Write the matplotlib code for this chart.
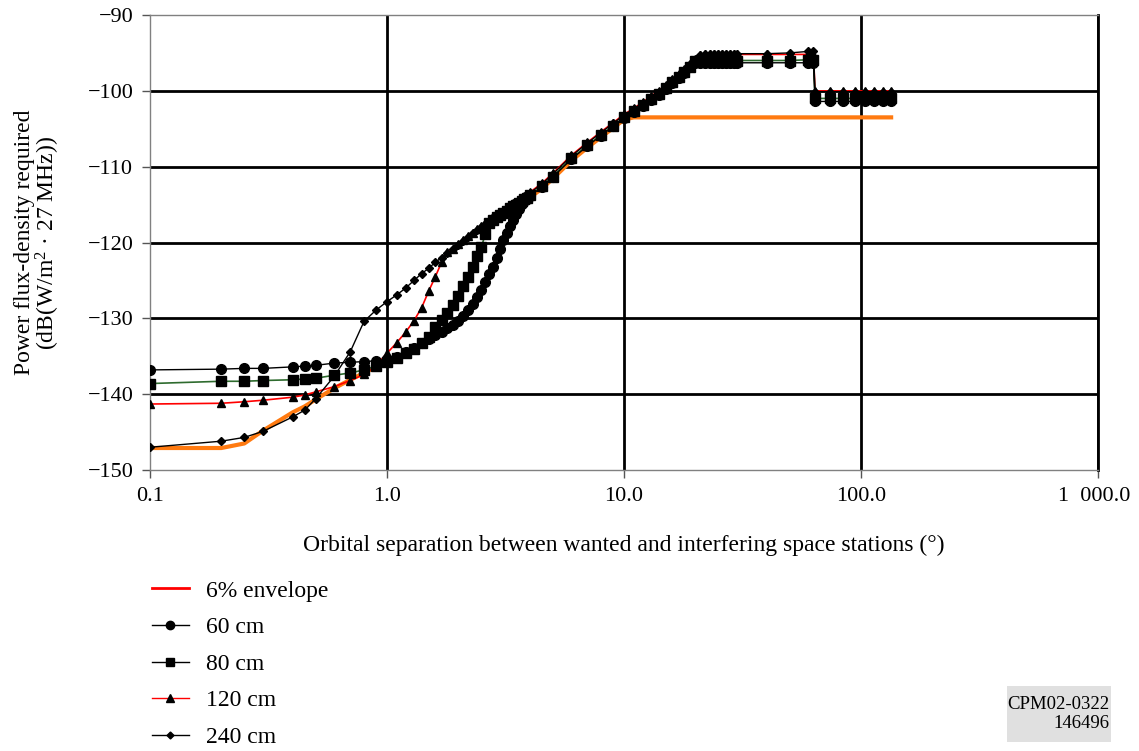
import matplotlib
matplotlib.use('Agg')
import matplotlib.pyplot as plt
from matplotlib.lines import Line2D
from matplotlib.patches import Rectangle
from matplotlib.ticker import FixedLocator, FixedFormatter, NullLocator
from matplotlib.transforms import ScaledTranslation

# orbital separation (degrees), shared by all curves
x_deg = [0.1, 0.2, 0.25, 0.3, 0.4, 0.45, 0.5, 0.6, 0.7, 0.8, 0.9,
         1.0, 1.1, 1.2, 1.3, 1.4, 1.5, 1.6, 1.7, 1.8, 1.9,
         2.0, 2.1, 2.2, 2.3, 2.4, 2.5, 2.6, 2.7, 2.8, 2.9,
         3.0, 3.1, 3.2, 3.3, 3.4, 3.5, 3.6, 3.7, 3.8, 3.9,
         4.0, 4.5, 5.0,
         6, 7, 8, 9, 10, 11, 12, 13, 14, 15, 16, 17, 18, 19,
         20, 21, 22, 23, 24, 25, 26, 27, 28, 29, 30,
         40, 50, 60, 63,
         64, 74, 84, 94, 104, 114, 124, 134]

pfd_240 = [-147.0, -146.2, -145.7, -144.9, -143.0, -142.1, -140.6, -137.6, -134.4, -130.4, -128.9,
           -127.8, -126.9, -126.0, -125.0, -124.1, -123.4, -122.6, -122.0, -121.4, -120.9,
           -120.3, -119.8, -119.3, -118.8, -118.3, -117.9, -117.5, -117.1, -116.7, -116.4,
           -116.1, -115.8, -115.5, -115.2, -114.9, -114.7, -114.5, -114.2, -114.0, -113.8,
           -113.5, -112.3, -111.0,
           -108.6, -106.9, -105.5, -104.3, -103.2, -102.4, -101.6, -100.8, -100.1, -99.3, -98.6, -97.9, -97.2, -96.5,
           -95.9, -95.3, -95.1, -95.1, -95.1, -95.1, -95.1, -95.1, -95.1, -95.1, -95.1,
           -95.1, -95.0, -94.8, -94.8,
           -100.1, -100.1, -100.1, -100.1, -100.1, -100.1, -100.1, -100.1]

pfd_120 = [-141.3, -141.2, -141.0, -140.8, -140.4, -140.1, -139.7, -139.0, -138.2, -137.4, -136.2,
           -134.6, -133.2, -131.8, -130.3, -128.6, -126.4, -124.5, -122.6, -121.3, -120.8,
           -120.2, -119.7, -119.2, -118.7, -118.2, -117.8, -117.4, -117.0, -116.6, -116.3,
           -116.0, -115.7, -115.4, -115.1, -114.8, -114.6, -114.4, -114.1, -113.9, -113.7,
           -113.4, -112.2, -110.9,
           -108.5, -106.8, -105.4, -104.2, -103.1, -102.3, -101.5, -100.7, -100.0, -99.2, -98.5, -97.8, -97.1, -96.4,
           -95.8, -95.3, -95.2, -95.2, -95.2, -95.2, -95.2, -95.2, -95.2, -95.2, -95.2,
           -95.2, -95.2, -95.2, -95.2,
           -100.0, -100.0, -100.0, -100.0, -100.0, -100.0, -100.0, -100.0]

pfd_80 = [-138.6, -138.3, -138.3, -138.2, -138.1, -138.0, -137.9, -137.5, -137.2, -136.8, -136.3,
          -135.8, -135.2, -134.6, -134.0, -133.3, -132.4, -131.1, -130.2, -129.3, -128.2,
          -127.0, -125.8, -124.6, -123.2, -121.8, -120.6, -118.9, -117.4, -117.0, -116.7,
          -116.4, -116.1, -115.8, -115.5, -115.2, -115.0, -114.8, -114.5, -114.3, -114.1,
          -113.8, -112.6, -111.3,
          -108.9, -107.2, -105.8, -104.6, -103.5, -102.7, -101.9, -101.1, -100.4, -99.6, -98.9, -98.2, -97.5, -96.8,
          -96.1, -96.0, -96.0, -96.0, -96.0, -96.0, -96.0, -96.0, -96.0, -96.0, -96.0,
          -96.0, -96.0, -95.9, -95.9,
          -101.0, -101.0, -101.0, -101.0, -101.0, -101.0, -101.0, -101.0]

pfd_60 = [-136.8, -136.7, -136.6, -136.6, -136.4, -136.3, -136.2, -135.9, -135.8, -135.7, -135.6,
          -135.4, -135.1, -134.5, -133.9, -133.3, -132.7, -132.2, -131.8, -131.3, -130.9,
          -130.4, -129.7, -128.9, -128.1, -127.2, -126.3, -125.2, -124.2, -123.2, -122.0,
          -120.8, -119.7, -118.7, -117.8, -117.0, -116.3, -115.6, -114.9, -114.5, -114.2,
          -113.9, -112.7, -111.4,
          -109.0, -107.3, -105.9, -104.7, -103.6, -102.8, -102.0, -101.2, -100.5, -99.7, -99.0, -98.3, -97.6, -96.9,
          -96.3, -96.3, -96.3, -96.3, -96.3, -96.3, -96.3, -96.3, -96.3, -96.3, -96.3,
          -96.3, -96.3, -96.3, -96.3,
          -101.4, -101.4, -101.4, -101.4, -101.4, -101.4, -101.4, -101.4]

envelope = [-147.1, -147.1, -146.5, -144.8, -142.4, -141.6, -140.7, -139.2, -138.1, -137.2, -136.4,
            -135.6, -135.2, -134.6, -134.0, -133.4, -132.8, -132.3, -131.9, -131.4, -131.0,
            -130.5, -129.8, -129.0, -128.2, -127.3, -126.4, -125.3, -124.3, -123.3, -122.1,
            -120.9, -119.8, -118.8, -117.9, -117.1, -116.4, -115.7, -115.1, -114.7, -114.4,
            -114.1, -112.9, -111.6,
            -109.2, -107.5, -106.1, -104.9, -103.8, -103.5, -103.5, -103.5, -103.5, -103.5, -103.5, -103.5, -103.5, -103.5,
            -103.5, -103.5, -103.5, -103.5, -103.5, -103.5, -103.5, -103.5, -103.5, -103.5, -103.5,
            -103.5, -103.5, -103.5, -103.5,
            -103.5, -103.5, -103.5, -103.5, -103.5, -103.5, -103.5, -103.5]

x_ticks = [0.1, 1, 10, 100, 1000]
x_labels = ['0.1', '1.0', '10.0', '100.0', '1\u2002000.0']
y_ticks = [-150, -140, -130, -120, -110, -100, -90]
y_labels = ['\u2212150', '\u2212140', '\u2212130', '\u2212120', '\u2212110', '\u2212100', '\u221290']
series_names = ['6% envelope', '60 cm', '80 cm', '120 cm', '240 cm']

plt.rcParams['font.family'] = ['Liberation Serif', 'DejaVu Serif']
plt.rcParams['mathtext.fontset'] = 'custom'
plt.rcParams['mathtext.rm'] = 'Liberation Serif'
plt.rcParams['mathtext.it'] = 'Liberation Serif:italic'
FS_TICK = 16
FS = 17

fig = plt.figure(figsize=(11.39, 7.51), dpi=100)
ax = fig.add_axes([150/1139, 1 - 470/751, (1098-150)/1139, (470-15)/751])

orange = '#ff7a10'
green = '#2e6b2e'

ax.plot(x_deg, envelope, color=orange, lw=3, zorder=2)
ax.plot(x_deg, pfd_120, color='red', lw=1.2, marker='^', ms=6, mfc='black', mec='black', zorder=3)
ax.plot(x_deg, pfd_80, color=green, lw=1.2, marker='s', ms=6.5, mfc='black', mec='black', zorder=3)
ax.plot(x_deg, pfd_60, color='black', lw=1, marker='o', ms=7, mfc='black', mec='black', zorder=3)
ax.plot(x_deg, pfd_240, color='black', lw=1, marker='D', ms=3.8, mfc='black', mec='black', zorder=4)

ax.set_xscale('log')
ax.set_xlim(0.1, 1000)
ax.set_ylim(-150, -90)
ax.xaxis.set_major_locator(FixedLocator(x_ticks))
ax.xaxis.set_major_formatter(FixedFormatter(x_labels))
ax.xaxis.set_minor_locator(NullLocator())
ax.set_yticks(y_ticks)
ax.set_yticklabels(y_labels)
ax.tick_params(labelsize=FS_TICK, direction='out', length=6, width=1, color='#555555', pad=6)

ax.grid(True, color='black', lw=2)
ax.xaxis.get_gridlines()[0].set_visible(False)
ygl = ax.yaxis.get_gridlines()
ygl[0].set_visible(False)
ygl[-1].set_visible(False)
for s in ax.spines.values():
    s.set_color('#808080')
    s.set_linewidth(1)
ax.spines['right'].set_color('black')
ax.spines['right'].set_linewidth(2)

# last x tick label sits a bit left of its tick in the reference
last = ax.get_xticklabels()[-1]
last.set_transform(last.get_transform() + ScaledTranslation(-4/100, 0, fig.dpi_scale_trans))

ax.set_xlabel('Orbital separation between wanted and interfering space stations (\u00b0)',
              fontsize=FS, labelpad=21)
ax.set_ylabel('Power flux-density required\n(dB(W/m$^2$ \u00b7 27 MHz))', fontsize=FS,
              labelpad=18, linespacing=0.95)

handles = [
    Line2D([], [], color='red', lw=2),
    Line2D([], [], color='black', lw=1, marker='o', ms=6),
    Line2D([], [], color='black', lw=1, marker='s', ms=5.5),
    Line2D([], [], color='red', lw=1, marker='^', ms=5.5, mfc='black', mec='black'),
    Line2D([], [], color='black', lw=1, marker='D', ms=3.5),
]
fig.legend(handles, series_names, loc='upper left', bbox_to_anchor=(152/1139, 1 - 580/751),
           frameon=False, fontsize=FS, handlelength=1.55, handletextpad=0.72,
           labelspacing=0.64, borderpad=0, borderaxespad=0)

fig.patches.append(Rectangle((1007/1139, 1 - 742/751), 104/1139, 56/751,
                             transform=fig.transFigure, fc='#e0e0e0', ec='none', zorder=0))
fig.text(1109/1139, 1 - 714/751, 'CPM02-0322\n146496', ha='right', va='center',
         fontsize=13.5, linespacing=1.1)

fig.savefig('out.png', dpi=100)
